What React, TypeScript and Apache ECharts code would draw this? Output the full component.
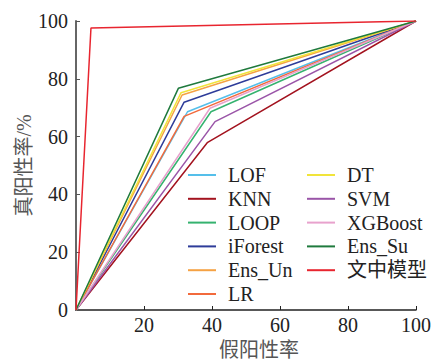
import React, { useEffect, useRef } from "react";
import * as echarts from "echarts";

const seriesNames = ["LOF", "KNN", "LOOP", "iForest", "Ens_Un", "LR", "DT", "SVM", "XGBoost", "Ens_Su", "文中模型"];
const seriesColors = ["#55BFEA", "#A3131F", "#35B26F", "#2E3C99", "#F5A244", "#F26A3C", "#F1E43A", "#9A55A8", "#E8A2CD", "#1F7A3D", "#E8252F"];
const kneeFPR = [32.8, 38.6, 39.7, 31.8, 31.2, 31.8, 30.9, 40.9, 39.4, 30.1, 4.4];
const kneeTPR = [68.6, 57.9, 68.6, 71.9, 74.4, 67.0, 75.2, 65.2, 69.8, 76.7, 97.6];
const startPoint = [0, 0];
const endPoint = [100, 100];
const legendLeftNames = seriesNames.slice(0, 6);
const legendRightNames = seriesNames.slice(6);
const xTicks = [0, 20, 40, 60, 80, 100];

const serif = "'Liberation Serif', 'Times New Roman', 'Noto Sans CJK SC', serif";

export default function App() {
  const ref = useRef<HTMLDivElement>(null);
  useEffect(() => {
    if (!ref.current) return;
    const chart = echarts.init(ref.current, undefined, { renderer: "svg" });
    const legendCommon = {
      orient: "vertical" as const,
      top: 165,
      padding: 0,
      icon: "rect",
      itemWidth: 28,
      itemHeight: 2,
      itemGap: 3.8,
      textStyle: {
        fontSize: 20,
        lineHeight: 20,
        fontFamily: serif,
        color: "#222",
        padding: [0, 0, 0, 7],
      },
    };
    chart.setOption({
      animation: false,
      backgroundColor: "#fff",
      grid: { left: 76, right: 17, top: 21, bottom: 51, containLabel: false, outerBoundsMode: "none" },
      legend: [
        { ...legendCommon, left: 188, data: legendLeftNames },
        { ...legendCommon, left: 307, data: legendRightNames },
      ],
      xAxis: {
        type: "value",
        min: xTicks[0],
        max: xTicks[xTicks.length - 1],
        interval: 20,
        name: "假阳性率",
        nameLocation: "middle",
        nameGap: 27,
        nameTextStyle: { fontSize: 20, fontFamily: serif, color: "#555", padding: [0, 0, 0, 26] },
        axisLine: { lineStyle: { color: "#222", width: 1.5 } },
        axisTick: { inside: true, length: 4, lineStyle: { color: "#222" } },
        axisLabel: {
          fontSize: 20,
          fontFamily: serif,
          color: "#222",
          margin: 5,
          formatter: (v: number) => (v === 0 ? "" : String(v)),
        },
        splitLine: { show: false },
      },
      yAxis: {
        type: "value",
        min: 0,
        max: 100,
        interval: 20,
        name: "真阳性率/%",
        nameLocation: "middle",
        nameGap: 42,
        nameMoveOverlap: false,
        nameRotate: 90,
        nameTextStyle: { fontSize: 20, fontFamily: serif, color: "#555" },
        axisLine: { show: true, lineStyle: { color: "#666", width: 2 } },
        axisTick: { show: true, inside: true, length: 4, lineStyle: { color: "#555" } },
        axisLabel: { fontSize: 20, fontFamily: serif, color: "#222", margin: 8 },
        splitLine: { show: false },
      },
      series: seriesNames.map((name, i) => ({
        name,
        type: "line",
        symbol: "none",
        color: seriesColors[i],
        lineStyle: { width: 1.5, color: seriesColors[i] },
        data: [startPoint, [kneeFPR[i], kneeTPR[i]], endPoint],
        z: i === seriesNames.length - 1 ? 3 : 2,
      })),
    });
    return () => chart.dispose();
  }, []);
  return <div ref={ref} style={{ position: "absolute", left: 0, top: 0, width: 433, height: 361 }} />;
}
